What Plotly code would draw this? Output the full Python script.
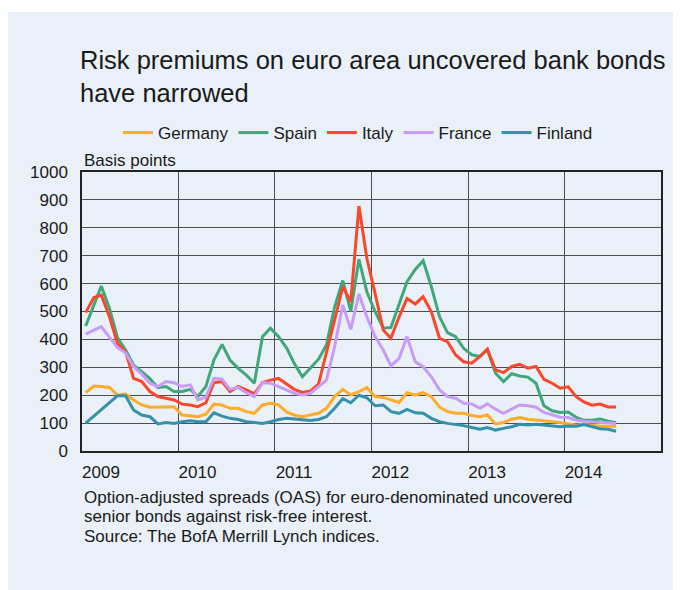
import plotly.graph_objects as go

# monthly observations, Jan 2009 - Jul 2014 (basis points)
months = [f"{y}-{m:02d}-15" for y in range(2009, 2015) for m in range(1, 13)][:67]
years = ["2009", "2010", "2011", "2012", "2013", "2014"]

germany = [209, 233, 231, 228, 201, 204, 183, 165, 157, 157, 157, 159,
           129, 125, 123, 132, 168, 165, 153, 153, 141, 135, 165, 171,
           165, 139, 129, 123, 129, 135, 153, 195, 221, 201, 213, 227,
           195, 192, 183, 174, 209, 201, 209, 195, 157, 141, 135, 135,
           127, 123, 129, 97, 102, 114, 120, 114, 111, 109, 105, 102,
           96, 92, 96, 92, 89, 89, 89]
spain = [448, 523, 591, 511, 407, 362, 308, 284, 260, 227, 231, 213,
         213, 221, 195, 231, 326, 382, 326, 296, 272, 243, 410, 440,
         410, 368, 314, 266, 296, 329, 380, 517, 611, 500, 687, 570,
         500, 440, 443, 523, 607, 651, 682, 589, 481, 424, 410, 368,
         345, 339, 363, 279, 249, 277, 269, 265, 243, 162, 144, 138,
         140, 120, 110, 110, 115, 107, 101]
italy = [496, 550, 559, 481, 386, 356, 260, 249, 213, 195, 189, 183,
         168, 165, 159, 173, 245, 249, 213, 231, 219, 205, 245, 254,
         260, 240, 221, 210, 215, 240, 350, 470, 589, 535, 878, 690,
         565, 434, 404, 481, 547, 527, 553, 499, 404, 392, 344, 320,
         315, 339, 365, 291, 281, 303, 311, 297, 303, 257, 243, 225,
         230, 194, 176, 164, 168, 158, 158]
france = [419, 434, 446, 407, 371, 352, 302, 276, 243, 231, 249, 245,
          231, 237, 183, 193, 260, 257, 221, 228, 209, 195, 245, 243,
          231, 219, 207, 201, 207, 231, 254, 374, 523, 436, 563, 480,
          410, 362, 305, 332, 410, 320, 302, 266, 219, 195, 189, 171,
          169, 153, 169, 150, 135, 150, 165, 162, 157, 138, 129, 121,
          120, 110, 107, 104, 102, 101, 98]
finland = [100, 125, 150, 175, 198, 198, 147, 129, 123, 97, 102, 99,
           105, 108, 105, 105, 137, 125, 117, 113, 105, 102, 99, 105,
           113, 117, 115, 113, 109, 113, 123, 153, 188, 173, 200, 191,
           162, 165, 141, 135, 149, 137, 135, 117, 105, 99, 96, 91,
           84, 78, 84, 75, 81, 87, 96, 93, 96, 93, 91, 87,
           90, 89, 95, 86, 80, 78, 71]

series = [
    ("Germany", germany, "#fcab2b"),
    ("Spain", spain, "#3fa779"),
    ("Italy", italy, "#f8472a"),
    ("France", france, "#c99bf7"),
    ("Finland", finland, "#3590aa"),
]

footnote = [
    "Option-adjusted spreads (OAS) for euro-denominated uncovered",
    "senior bonds against risk-free interest.",
    "Source: The BofA Merrill Lynch indices.",
]

PANEL = "#e9f0f7"
FONT = "Arial, Liberation Sans, sans-serif"
GRID = "#4d4d4d"
# plot area in figure pixels: x 74..653, y 164..443
L, R, T, B = 74, 653, 164, 443
W, H = R - L, B - T


def py(y):
    return (B - y) / H


fig = go.Figure()
for name, vals, col in series:
    fig.add_trace(go.Scatter(x=months, y=vals, name=name, mode="lines",
                             line=dict(color=col, width=3)))

fig.add_shape(type="rect", xref="paper", yref="paper",
              x0=(0 - L) / W, x1=(690 - L) / W, y0=py(600), y1=py(4),
              fillcolor=PANEL, line_width=0, layer="below")

fig.update_layout(
    width=681, height=590,
    margin=dict(l=L, r=681 - R, t=T, b=590 - B),
    paper_bgcolor="white", plot_bgcolor="rgba(0,0,0,0)",
    font=dict(family=FONT, size=17, color="#1a1a1a"),
    title=dict(text="Risk premiums on euro area uncovered bank bonds<br>have narrowed",
               x=72 / 681, xanchor="left", y=1 - 61 / 590, yanchor="top",
               font=dict(size=25.5, color="#1a1a1a")),
    legend=dict(orientation="h", x=(110 - L) / W, xanchor="left",
                y=py(125), yanchor="middle",
                bgcolor="rgba(0,0,0,0)", font=dict(size=17), itemwidth=30),
    showlegend=True,
)

fig.update_xaxes(type="date", range=["2009-01-01", "2015-01-01"],
                 tickvals=[f"{y}-01-01" for y in years], ticktext=years,
                 ticklabelshift=19, ticklabelstandoff=5,
                 showgrid=True, gridcolor=GRID, gridwidth=1.3,
                 showline=True, linecolor="#222", linewidth=1.5, mirror=True,
                 ticks="", tickfont=dict(size=17), zeroline=False)
fig.update_yaxes(range=[0, 1000], dtick=100, showgrid=True, gridcolor=GRID, gridwidth=1.3,
                 showline=True, linecolor="#222", linewidth=1.5, mirror=True,
                 ticks="outside", ticklen=9, tickcolor="rgba(0,0,0,0)",
                 tickfont=dict(size=17), zeroline=False)

fig.add_annotation(text="Basis points", xref="paper", yref="paper", x=0, y=py(152),
                   xanchor="left", yanchor="middle", showarrow=False,
                   font=dict(size=17))
for i, line in enumerate(footnote):
    fig.add_annotation(text=line, xref="paper", yref="paper", x=0,
                       y=py(489 + 19.5 * i), xanchor="left", yanchor="middle",
                       showarrow=False, font=dict(size=17))

fig.write_html("out.html")
